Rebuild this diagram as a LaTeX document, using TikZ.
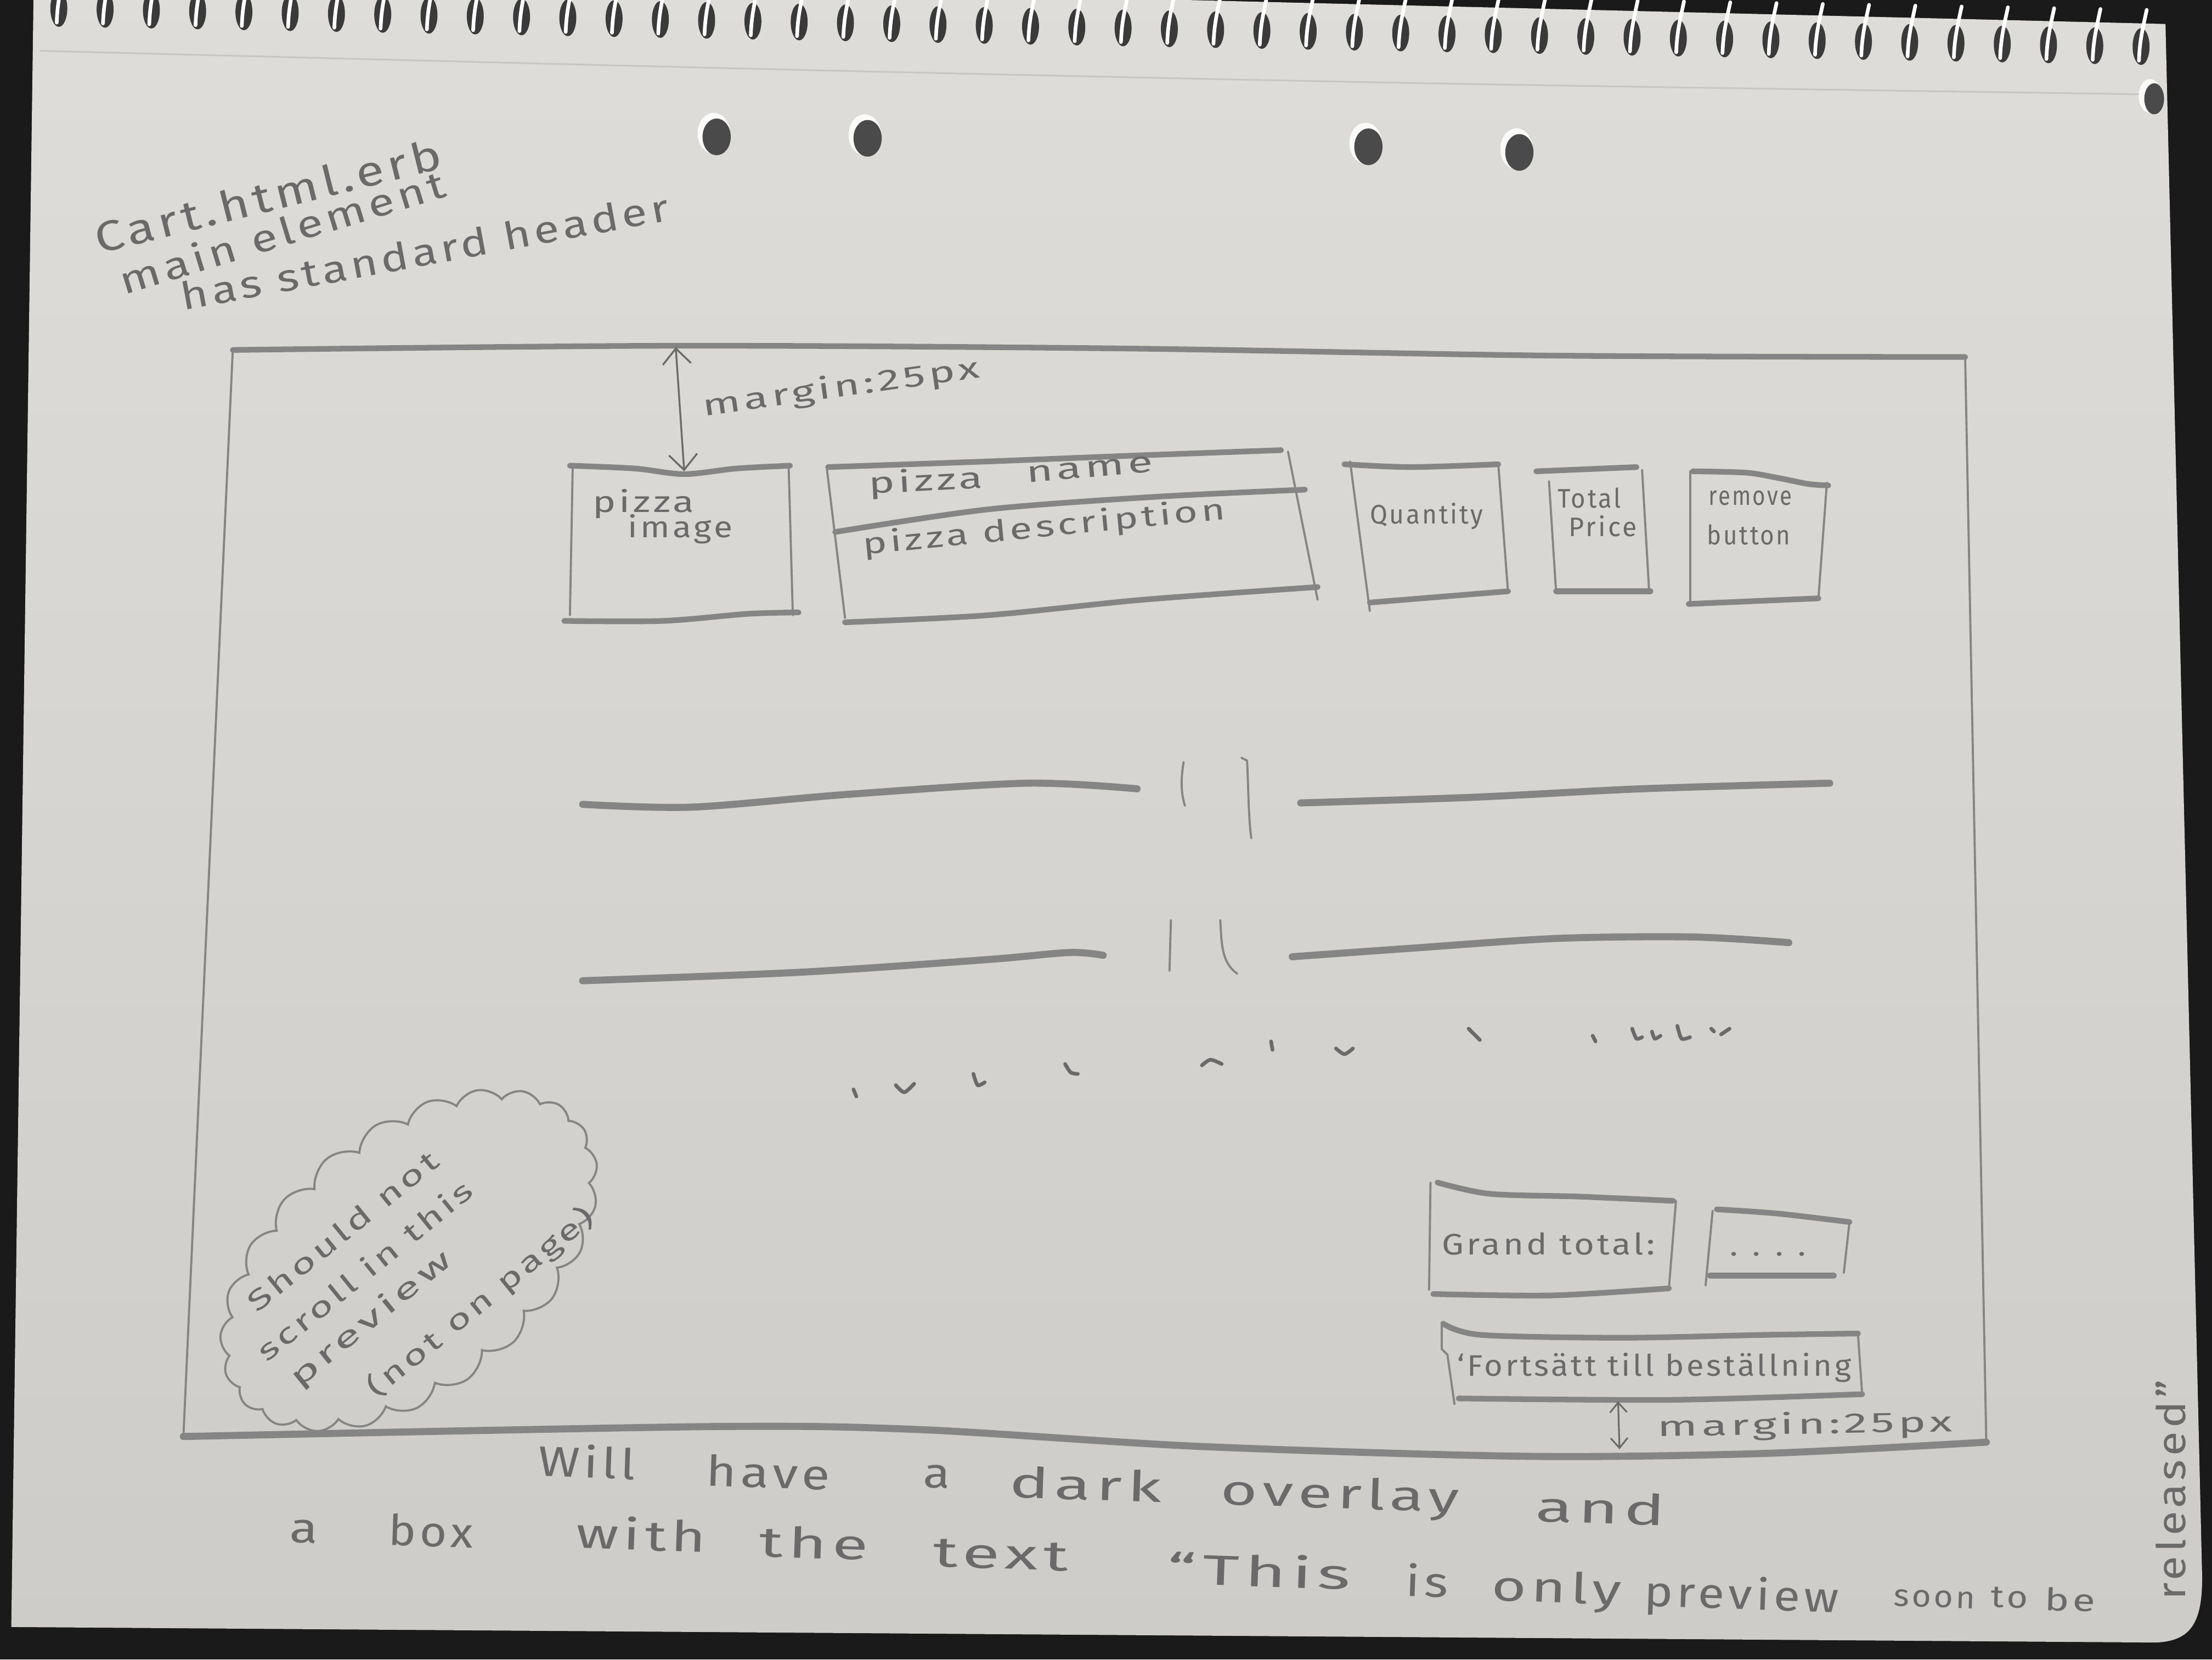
\documentclass[tikz,border=0pt]{standalone}
\usepackage{fontspec}
\usetikzlibrary{shapes.symbols,arrows.meta}
\newfontfamily\hand{Fira Sans}[LetterSpace=8]
\definecolor{desk}{HTML}{1A1A1A}
\definecolor{paperA}{HTML}{DEDDD9}
\definecolor{paperB}{HTML}{CDCCC8}
\definecolor{pencil}{HTML}{858585}
\definecolor{lead}{HTML}{6A6A6A}
\definecolor{holeC}{HTML}{3A3A3A}
\definecolor{punch}{HTML}{4A4A4A}
\definecolor{crease}{HTML}{C7C6C2}
% stretch a handwritten word or line to a given width
\newcommand\wide[2]{\resizebox{#1}{\height}{#2}}
\begin{document}
\begin{tikzpicture}[x=1pt,y=-1pt,
  rim/.style={draw=pencil,line width=1.5pt,line cap=round,line join=round},
  bar/.style={draw=pencil,line width=4pt,line cap=round,line join=round},
  jot/.style={draw=lead,line width=2.6pt,line cap=round},
  scrawl/.style={text=lead,inner sep=0pt,anchor=base west,font=\hand\fontsize{#1}{#1}\selectfont},
  dimtop/.style={draw=lead,line width=1.3pt,{Straight Barb[length=11pt,width=20pt]}-{Straight Barb[length=11pt,width=20pt]}},
  dimbot/.style={draw=lead,line width=1.2pt,{Straight Barb[length=7pt,width=12pt]}-{Straight Barb[length=7pt,width=12pt]}},
]
\useasboundingbox (0,0) rectangle (1568,1176);
\clip (0,0) rectangle (1568,1176);

% desk and sheet
\fill[desk] (0,0) rectangle (1568,1176);
\shade[top color=paperA,bottom color=paperB]
  (24,-20) -- (1535,17) -- (1561,1118) .. controls (1561,1150) and (1553,1163) .. (1528,1164) -- (8,1153) -- cycle;
\draw[crease,line width=1.2pt] plot[smooth] coordinates {(28,36) (545,49) (1011,59) (1533,67)};

% spiral binding
\foreach \i in {0,...,45} {
  \pgfmathsetmacro\hx{41.7+32.8*\i}
  \pgfmathsetmacro\hy{6+27*\i/45}
  \fill[holeC] (\hx,\hy) ellipse [x radius=6, y radius=13];
  \draw[white,line width=2.6pt,line cap=round]
    (\hx-1.5,\hy+10) .. controls (\hx-1,\hy-4) and (\hx+1,\hy-12) .. (\hx+4,\hy-26);
}

% punched holes
\foreach \px/\py in {508/97, 615/98, 970/104, 1077/108} {
  \fill[white!85!paperA] (\px-2,\py-2.5) ellipse [x radius=11.5, y radius=14.5];
  \fill[punch] (\px,\py) ellipse [x radius=10, y radius=13];
}
\fill[white!85!paperA] (1524,68) ellipse [x radius=8, y radius=12];
\fill[punch] (1527,70) ellipse [x radius=7, y radius=11];

% page title notes
\node[scrawl=30, rotate=14] (cart1) at (70,180) {\wide{252pt}{Cart.html.erb}};
\node[scrawl=27, rotate=17] (cart2) at (88,209) {\wide{240pt}{main element}};
\node[scrawl=27, rotate=10.5] (cart3) at (130,220) {\wide{351pt}{has standard header}};

% main element frame
\draw[bar] plot[smooth] coordinates {(165,248) (480,245) (800,247) (1100,252) (1393,253)};
\draw[rim] (165,248) -- (130,1018);
\draw[rim] (1393,253) -- (1408,1022);
\draw[bar,line width=5pt] plot[smooth] coordinates {(130,1018) (500,1011) (650,1013) (850,1025) (1080,1032) (1250,1030) (1408,1022)};

% top margin
\coordinate (ftop) at (479,246);
\coordinate (itop) at (485,334);
\draw[dimtop] (ftop) -- (itop);
\node[scrawl=21, rotate=8] (mtop) at (499,295) {\wide{198pt}{margin:25px}};

% cart row: image
\draw[bar] plot[smooth] coordinates {(404,330) (450,332) (485,336) (522,332) (560,330)};
\draw[rim] (406,329) -- (404,436);
\draw[rim] (559,329) -- (562,436);
\draw[bar] plot[smooth] coordinates {(400,440) (470,440) (530,435) (566,434)};
\node[scrawl=21] (imgA) at (420,363) {\wide{72pt}{pizza}};
\node[scrawl=21] (imgB) at (445,381) {\wide{74pt}{image}};

% cart row: name and description
\draw[bar] plot[smooth] coordinates {(587,331) (700,327) (800,323) (908,319)};
\draw[bar] plot[smooth] coordinates {(592,377) (700,361) (820,352) (925,347)};
\draw[rim] (586,331) -- (599,438);
\draw[rim] (913,320) -- (934,425);
\draw[bar] plot[smooth] coordinates {(599,441) (700,436) (810,425) (934,416)};
\node[scrawl=21, rotate=3] (nameA) at (616,350) {\wide{81pt}{pizza}};
\node[scrawl=21, rotate=5] (nameB) at (728,342) {\wide{90pt}{name}};
\node[scrawl=21, rotate=5.6] (desc) at (612,393) {\wide{258pt}{pizza description}};

% cart row: quantity
\draw[bar] plot[smooth] coordinates {(953,329) (1000,331) (1062,329)};
\draw[rim] (957,327) -- (971,433);
\draw[rim] (1062,328) -- (1069,420);
\draw[bar] plot[smooth] coordinates {(971,427) (1020,423) (1069,419)};
\node[scrawl=19] (qty) at (971,371) {\wide{80pt}{Quantity}};

% cart row: total price
\draw[bar] (1089,334) -- (1160,331);
\draw[rim] (1098,341) -- (1103,419);
\draw[rim] (1164,333) -- (1169,419);
\draw[bar] (1103,419) -- (1170,419);
\node[scrawl=19] (totA) at (1104,360) {\wide{45pt}{Total}};
\node[scrawl=19] (totB) at (1112,380) {\wide{48pt}{Price}};

% cart row: remove button
\draw[bar] plot[smooth] coordinates {(1200,334) (1238,335) (1262,339) (1282,343) (1296,344)};
\draw[rim] (1198,334) -- (1198,427);
\draw[rim] (1295,342) -- (1289,424);
\draw[bar] (1197,428) -- (1289,424);
\node[scrawl=19] (remA) at (1211,358) {\wide{59pt}{remove}};
\node[scrawl=19] (remB) at (1210,386) {\wide{59pt}{button}};

% further rows, elided
\draw[bar,line width=5pt] plot[smooth] coordinates {(413,570) (490,572) (600,563) (728,555) (806,559)};
\draw[rim] (839,540) .. controls (837,552) and (837,562) .. (840,571);
\draw[rim] (880,537) -- (884,539) .. controls (885,560) and (885,580) .. (887,594);
\draw[bar,line width=5pt] plot[smooth] coordinates {(922,569) (1044,565) (1163,559) (1297,555)};

\draw[bar,line width=5pt] plot[smooth] coordinates {(413,695) (567,689) (700,680) (758,675) (782,677)};
\draw[rim] (830,652) -- (829,688);
\draw[rim] (865,652) .. controls (866,670) and (866,682) .. (877,690);
\draw[bar,line width=5pt] plot[smooth] coordinates {(916,678) (1000,672) (1104,665) (1200,664) (1268,668)};

% trailing marks
\draw[jot] (605,772) -- (607,777);
\draw[jot] plot[smooth] coordinates {(635,769) (641,774) (648,768)};
\draw[jot] plot[smooth] coordinates {(690,761) (693,769) (698,767)};
\draw[jot] plot[smooth] coordinates {(755,754) (759,760) (764,761)};
\draw[jot] plot[smooth] coordinates {(852,755) (858,751) (866,754)};
\draw[jot] (901,738) -- (902,744);
\draw[jot] plot[smooth] coordinates {(947,743) (953,747) (959,743)};
\draw[jot] plot[smooth] coordinates {(1041,729) (1045,733) (1049,737)};
\draw[jot] (1129,734) -- (1131,738);
\draw[jot] plot[smooth] coordinates {(1157,729) (1160,736) (1164,735)};
\draw[jot] plot[smooth] coordinates {(1171,731) (1173,736) (1177,734)};
\draw[jot] plot[smooth] coordinates {(1189,727) (1192,736) (1198,735)};
\draw[jot] (1213,729) -- (1215,731);
\draw[jot] (1220,733) -- (1226,729);

% note cloud
\node[cloud, draw=pencil, line width=1.5pt, cloud puffs=23, cloud puff arc=115,
      cloud ignores aspect, minimum width=310pt, minimum height=185pt, rotate=39] (cl) at (290,893) {};
\node[scrawl=20, rotate=39] (cl1) at (182,931) {\wide{168pt}{Should not}};
\node[scrawl=20, rotate=39] (cl2) at (189,966) {\wide{190pt}{scroll in this}};
\node[scrawl=20, rotate=39] (cl3) at (212,984) {\wide{141pt}{preview}};
\node[scrawl=20, rotate=39] (cl4) at (267,991) {\wide{200pt}{(not on page)}};

% grand total
\draw[bar] plot[smooth] coordinates {(1019,838) (1056,846) (1120,848) (1186,851)};
\draw[rim] (1014,838) -- (1013,914);
\draw[rim] (1188,851) -- (1183,913);
\draw[bar] plot[smooth] coordinates {(1016,917) (1100,918) (1183,913)};
\node[scrawl=21] (grand) at (1022,889) {\wide{151pt}{Grand total:}};

\draw[bar] plot[smooth] coordinates {(1217,857) (1260,860) (1311,866)};
\draw[rim] (1214,858) -- (1209,911);
\draw[rim] (1311,866) -- (1307,902);
\draw[bar] (1212,904) -- (1300,904);
\node[scrawl=20] (dots) at (1226,890) {\wide{54pt}{. . . .}};

% checkout button
\draw[bar] plot[smooth] coordinates {(1023,938) (1050,946) (1150,948) (1250,946) (1317,945)};
\draw[rim] (1022,938) -- (1022,956) -- (1026,960) -- (1031,995);
\draw[rim] (1317,945) -- (1320,988);
\draw[bar] plot[smooth] coordinates {(1034,991) (1185,992) (1320,988)};
\node[scrawl=21] (fort) at (1033,975) {\wide{279pt}{‘Fortsätt till beställning}};

% bottom margin
\coordinate (btop) at (1147,993);
\coordinate (fbot) at (1148,1027);
\draw[dimbot] (btop) -- (fbot);
\node[scrawl=20, rotate=1] (mbot) at (1175,1018) {\wide{209pt}{margin:25px}};

% overlay note below the frame
\foreach \wx/\wy/\wwid/\wtxt [count=\k] in {
  381/1046/69/Will, 500/1053/88/have, 654/1054/19/a, 715/1061/108/dark,
  865/1066/169/overlay, 1088/1078/92/and} {
  \node[scrawl=30, rotate=-2] (wa\k) at (\wx,\wy) {\wide{\wwid pt}{\wtxt}};
}
\foreach \wx/\wy/\wwid/\wtxt [count=\k] in {
  205/1093/20/a, 275/1095/60/box, 408/1097/92/with, 538/1103/77/the,
  661/1110/96/text, 827/1122/130/“This, 996/1131/30/is, 1057/1134/92/only,
  1165/1138/138/preview} {
  \node[scrawl=30, rotate=-2] (wb\k) at (\wx,\wy) {\wide{\wwid pt}{\wtxt}};
}
\foreach \wx/\wy/\wwid/\wtxt [count=\k] in {
  1342/1138/58/soon, 1411/1139/26/to, 1449/1141/36/be} {
  \node[scrawl=22, rotate=-2] (wc\k) at (\wx,\wy) {\wide{\wwid pt}{\wtxt}};
}
\node[scrawl=28, rotate=90] (rel) at (1549,1134) {\wide{156pt}{released”}};
\end{tikzpicture}
\end{document}
